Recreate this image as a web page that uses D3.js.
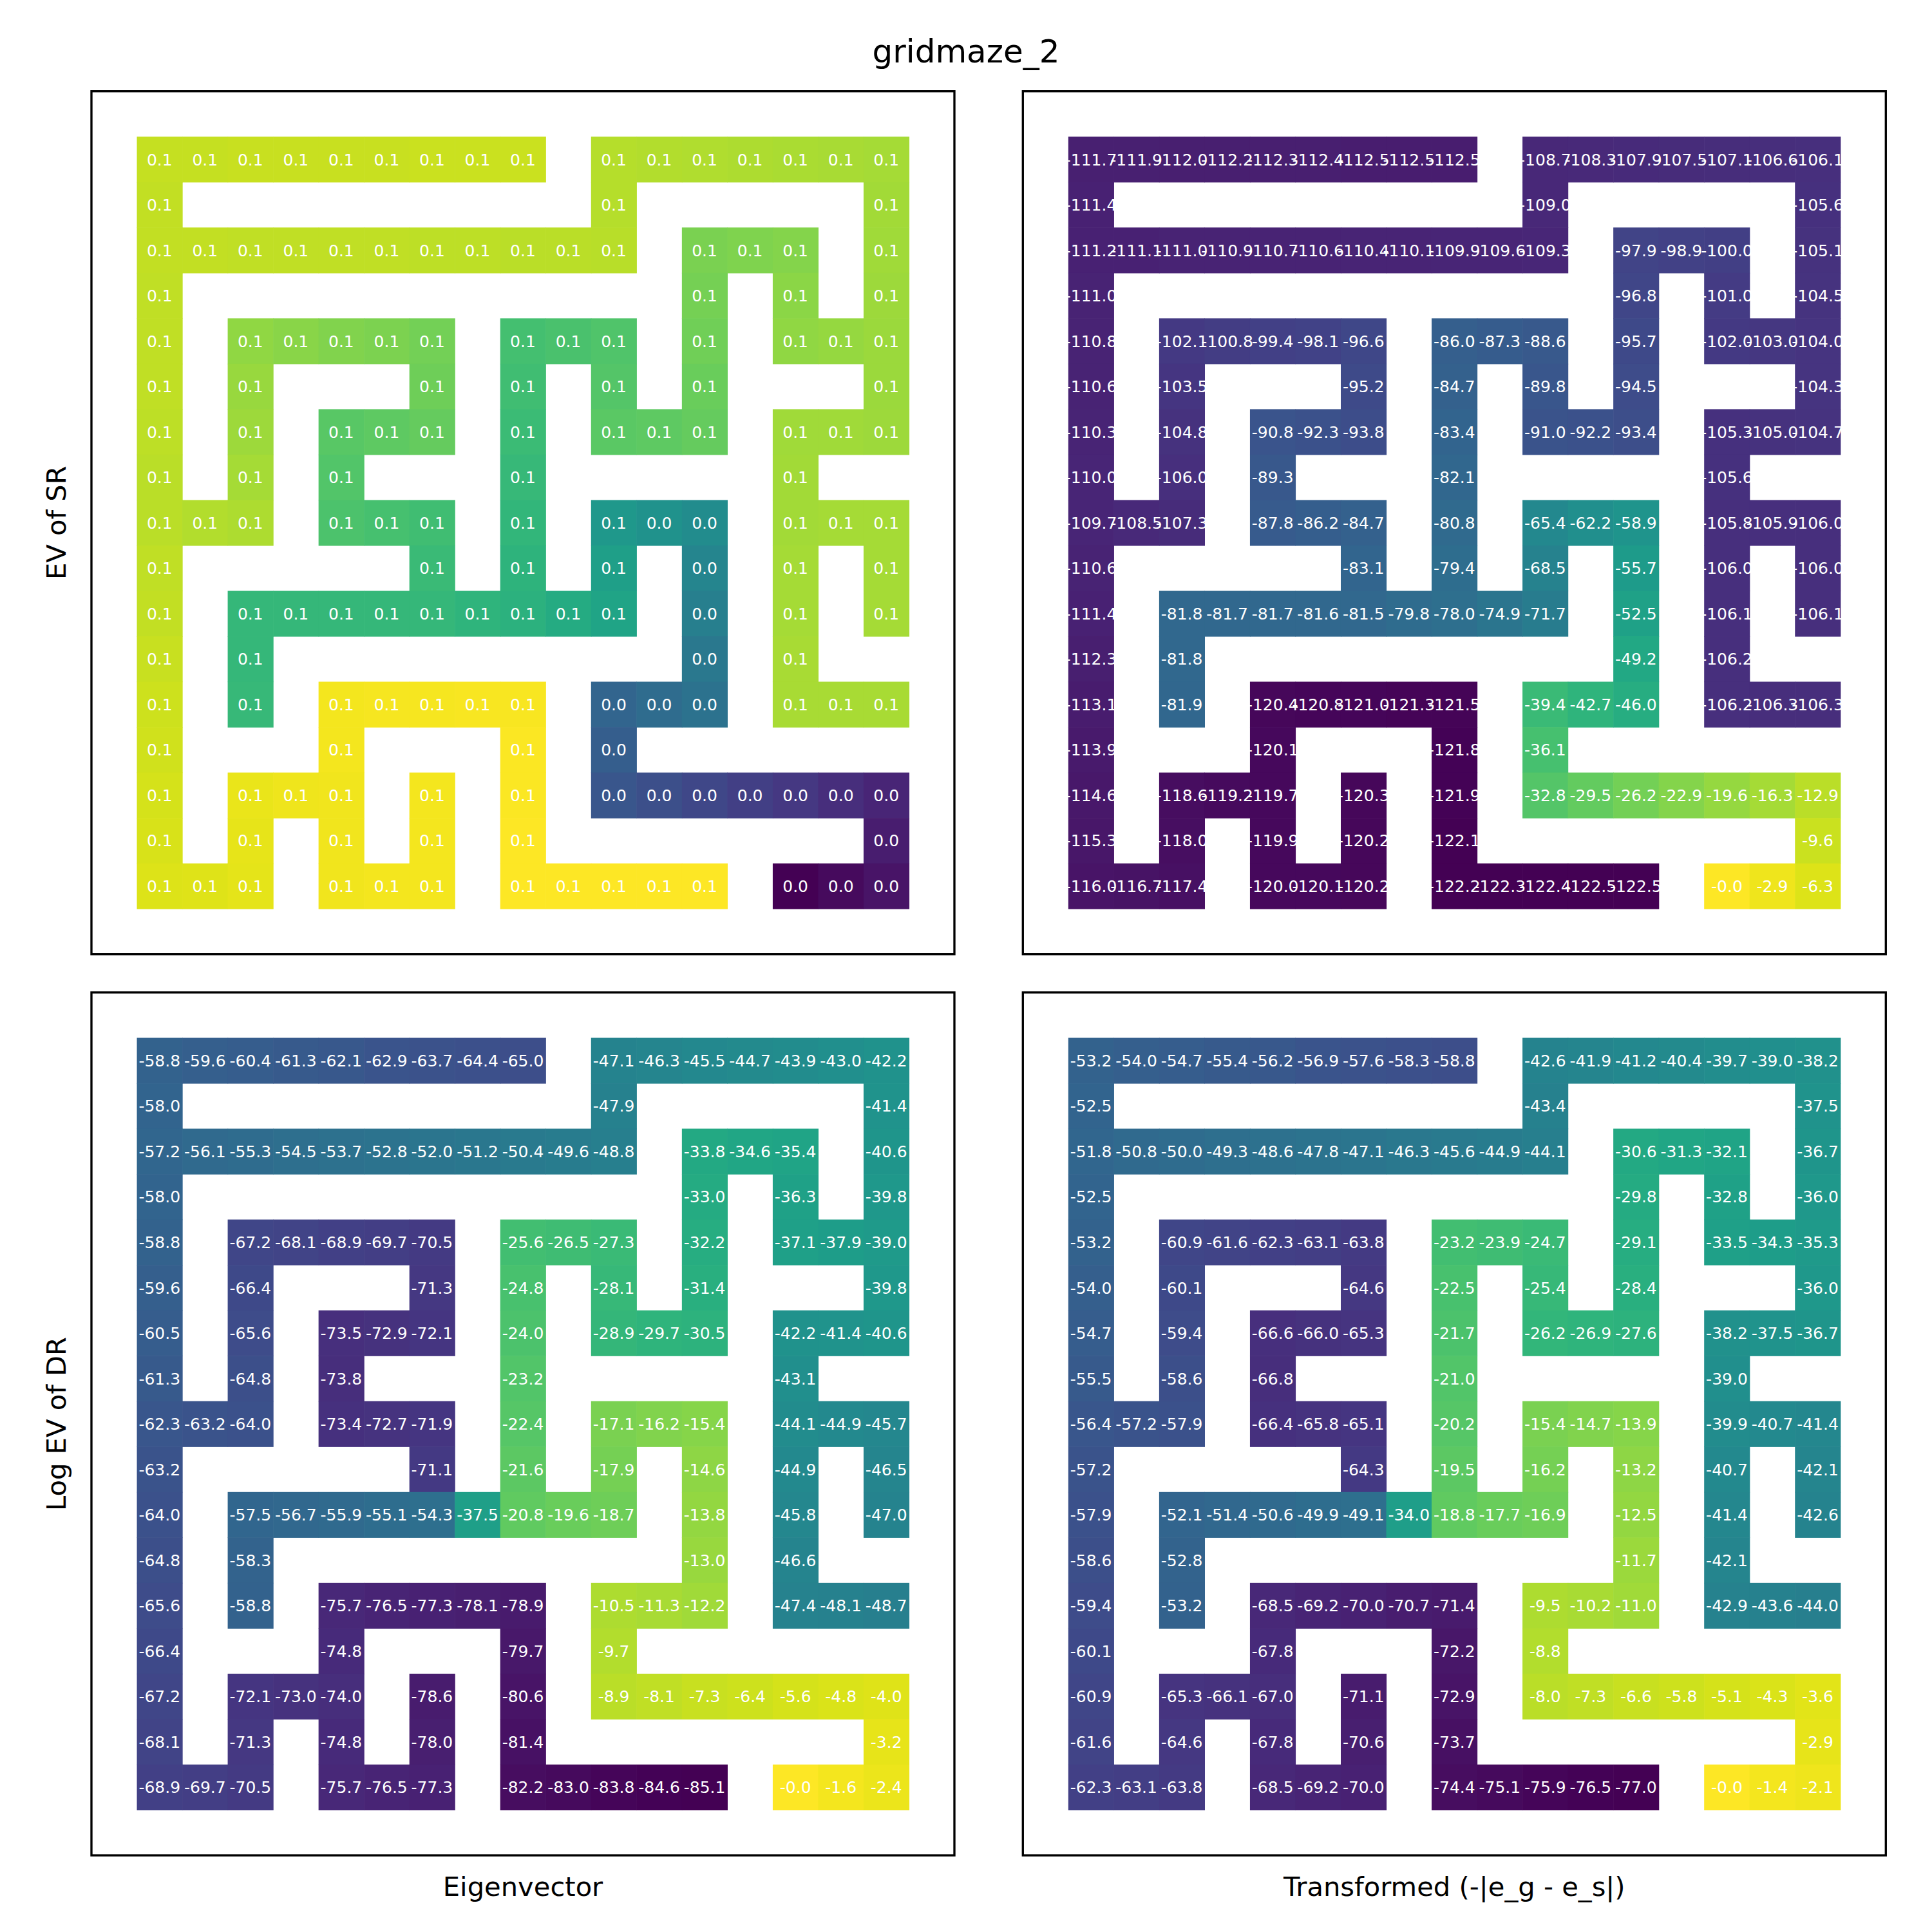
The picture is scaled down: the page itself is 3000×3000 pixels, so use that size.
<!DOCTYPE html>
<html>
<head>
<meta charset="utf-8">
<script src="https://cdn.jsdelivr.net/npm/d3@7"></script>
<style>
  html, body { margin: 0; padding: 0; background: #fff; }
  svg { display: block; }
  text { font-family: "DejaVu Sans", sans-serif; }
</style>
</head>
<body>
<script>
const n = null;
const title = "gridmaze_2";
const rowLabels = ["EV of SR", "Log EV of DR"];
const colLabels = ["Eigenvector", "Transformed (-|e_g - e_s|)"];

// Panel 1: eigenvector of SR (labels show 0.1 / 0.0; colour carries the finer value)
const srEigen = [
  [0.0894,0.0895,0.0896,0.0898,0.0898,0.0899,0.0900,0.0900,0.0900,n,0.0870,0.0866,0.0863,0.0860,0.0857,0.0853,0.0849],
  [0.0891,n,n,n,n,n,n,n,n,n,0.0872,n,n,n,n,n,0.0845],
  [0.0890,0.0889,0.0888,0.0887,0.0886,0.0885,0.0883,0.0881,0.0879,0.0877,0.0874,n,0.0783,0.0791,0.0800,n,0.0841],
  [0.0888,n,n,n,n,n,n,n,n,n,n,n,0.0774,n,0.0808,n,0.0836],
  [0.0886,n,0.0817,0.0806,0.0795,0.0785,0.0773,n,0.0688,0.0698,0.0709,n,0.0766,n,0.0816,0.0824,0.0832],
  [0.0885,n,0.0828,n,n,n,0.0762,n,0.0678,n,0.0718,n,0.0756,n,n,n,0.0834],
  [0.0882,n,0.0838,n,0.0726,0.0738,0.0750,n,0.0667,n,0.0728,0.0738,0.0747,n,0.0842,0.0840,0.0838],
  [0.0880,n,0.0848,n,0.0714,n,n,n,0.0657,n,n,n,n,n,0.0845,n,n],
  [0.0878,0.0868,0.0858,n,0.0702,0.0690,0.0678,n,0.0646,n,0.0523,0.0498,0.0471,n,0.0846,0.0847,0.0848],
  [0.0885,n,n,n,n,n,0.0665,n,0.0635,n,0.0548,n,0.0446,n,0.0848,n,0.0848],
  [0.0891,n,0.0654,0.0654,0.0654,0.0653,0.0652,0.0638,0.0624,0.0599,0.0574,n,0.0420,n,0.0849,n,0.0849],
  [0.0898,n,0.0654,n,n,n,n,n,n,n,n,n,0.0394,n,0.0850,n,n],
  [0.0905,n,0.0655,n,0.0963,0.0966,0.0968,0.0970,0.0972,n,0.0315,0.0342,0.0368,n,0.0850,0.0850,0.0850],
  [0.0911,n,n,n,0.0961,n,n,n,0.0974,n,0.0289,n,n,n,n,n,n],
  [0.0917,n,0.0949,0.0954,0.0958,n,0.0962,n,0.0975,n,0.0262,0.0236,0.0210,0.0183,0.0157,0.0130,0.0103],
  [0.0922,n,0.0944,n,0.0959,n,0.0962,n,0.0977,n,n,n,n,n,n,n,0.0077],
  [0.0928,0.0934,0.0939,n,0.0960,0.0961,0.0962,n,0.0978,0.0978,0.0979,0.0980,0.0980,n,0.0000,0.0023,0.0050]
];

// Panel 2: transformed SR eigenvector
const srTransformed = [
  [-111.7,-111.9,-112.0,-112.2,-112.3,-112.4,-112.5,-112.5,-112.5,n,-108.7,-108.3,-107.9,-107.5,-107.1,-106.6,-106.1],
  [-111.4,n,n,n,n,n,n,n,n,n,-109.0,n,n,n,n,n,-105.6],
  [-111.2,-111.1,-111.0,-110.9,-110.7,-110.6,-110.4,-110.1,-109.9,-109.6,-109.3,n,-97.9,-98.9,-100.0,n,-105.1],
  [-111.0,n,n,n,n,n,n,n,n,n,n,n,-96.8,n,-101.0,n,-104.5],
  [-110.8,n,-102.1,-100.8,-99.4,-98.1,-96.6,n,-86.0,-87.3,-88.6,n,-95.7,n,-102.0,-103.0,-104.0],
  [-110.6,n,-103.5,n,n,n,-95.2,n,-84.7,n,-89.8,n,-94.5,n,n,n,-104.3],
  [-110.3,n,-104.8,n,-90.8,-92.3,-93.8,n,-83.4,n,-91.0,-92.2,-93.4,n,-105.3,-105.0,-104.7],
  [-110.0,n,-106.0,n,-89.3,n,n,n,-82.1,n,n,n,n,n,-105.6,n,n],
  [-109.7,-108.5,-107.3,n,-87.8,-86.2,-84.7,n,-80.8,n,-65.4,-62.2,-58.9,n,-105.8,-105.9,-106.0],
  [-110.6,n,n,n,n,n,-83.1,n,-79.4,n,-68.5,n,-55.7,n,-106.0,n,-106.0],
  [-111.4,n,-81.8,-81.7,-81.7,-81.6,-81.5,-79.8,-78.0,-74.9,-71.7,n,-52.5,n,-106.1,n,-106.1],
  [-112.3,n,-81.8,n,n,n,n,n,n,n,n,n,-49.2,n,-106.2,n,n],
  [-113.1,n,-81.9,n,-120.4,-120.8,-121.0,-121.3,-121.5,n,-39.4,-42.7,-46.0,n,-106.2,-106.3,-106.3],
  [-113.9,n,n,n,-120.1,n,n,n,-121.8,n,-36.1,n,n,n,n,n,n],
  [-114.6,n,-118.6,-119.2,-119.7,n,-120.3,n,-121.9,n,-32.8,-29.5,-26.2,-22.9,-19.6,-16.3,-12.9],
  [-115.3,n,-118.0,n,-119.9,n,-120.2,n,-122.1,n,n,n,n,n,n,n,-9.6],
  [-116.0,-116.7,-117.4,n,-120.0,-120.1,-120.2,n,-122.2,-122.3,-122.4,-122.5,-122.5,n,-0.0,-2.9,-6.3]
];

// Panel 3: log eigenvector of DR
const drLogEigen = [
  [-58.8,-59.6,-60.4,-61.3,-62.1,-62.9,-63.7,-64.4,-65.0,n,-47.1,-46.3,-45.5,-44.7,-43.9,-43.0,-42.2],
  [-58.0,n,n,n,n,n,n,n,n,n,-47.9,n,n,n,n,n,-41.4],
  [-57.2,-56.1,-55.3,-54.5,-53.7,-52.8,-52.0,-51.2,-50.4,-49.6,-48.8,n,-33.8,-34.6,-35.4,n,-40.6],
  [-58.0,n,n,n,n,n,n,n,n,n,n,n,-33.0,n,-36.3,n,-39.8],
  [-58.8,n,-67.2,-68.1,-68.9,-69.7,-70.5,n,-25.6,-26.5,-27.3,n,-32.2,n,-37.1,-37.9,-39.0],
  [-59.6,n,-66.4,n,n,n,-71.3,n,-24.8,n,-28.1,n,-31.4,n,n,n,-39.8],
  [-60.5,n,-65.6,n,-73.5,-72.9,-72.1,n,-24.0,n,-28.9,-29.7,-30.5,n,-42.2,-41.4,-40.6],
  [-61.3,n,-64.8,n,-73.8,n,n,n,-23.2,n,n,n,n,n,-43.1,n,n],
  [-62.3,-63.2,-64.0,n,-73.4,-72.7,-71.9,n,-22.4,n,-17.1,-16.2,-15.4,n,-44.1,-44.9,-45.7],
  [-63.2,n,n,n,n,n,-71.1,n,-21.6,n,-17.9,n,-14.6,n,-44.9,n,-46.5],
  [-64.0,n,-57.5,-56.7,-55.9,-55.1,-54.3,-37.5,-20.8,-19.6,-18.7,n,-13.8,n,-45.8,n,-47.0],
  [-64.8,n,-58.3,n,n,n,n,n,n,n,n,n,-13.0,n,-46.6,n,n],
  [-65.6,n,-58.8,n,-75.7,-76.5,-77.3,-78.1,-78.9,n,-10.5,-11.3,-12.2,n,-47.4,-48.1,-48.7],
  [-66.4,n,n,n,-74.8,n,n,n,-79.7,n,-9.7,n,n,n,n,n,n],
  [-67.2,n,-72.1,-73.0,-74.0,n,-78.6,n,-80.6,n,-8.9,-8.1,-7.3,-6.4,-5.6,-4.8,-4.0],
  [-68.1,n,-71.3,n,-74.8,n,-78.0,n,-81.4,n,n,n,n,n,n,n,-3.2],
  [-68.9,-69.7,-70.5,n,-75.7,-76.5,-77.3,n,-82.2,-83.0,-83.8,-84.6,-85.1,n,-0.0,-1.6,-2.4]
];

// Panel 4: transformed DR
const drTransformed = [
  [-53.2,-54.0,-54.7,-55.4,-56.2,-56.9,-57.6,-58.3,-58.8,n,-42.6,-41.9,-41.2,-40.4,-39.7,-39.0,-38.2],
  [-52.5,n,n,n,n,n,n,n,n,n,-43.4,n,n,n,n,n,-37.5],
  [-51.8,-50.8,-50.0,-49.3,-48.6,-47.8,-47.1,-46.3,-45.6,-44.9,-44.1,n,-30.6,-31.3,-32.1,n,-36.7],
  [-52.5,n,n,n,n,n,n,n,n,n,n,n,-29.8,n,-32.8,n,-36.0],
  [-53.2,n,-60.9,-61.6,-62.3,-63.1,-63.8,n,-23.2,-23.9,-24.7,n,-29.1,n,-33.5,-34.3,-35.3],
  [-54.0,n,-60.1,n,n,n,-64.6,n,-22.5,n,-25.4,n,-28.4,n,n,n,-36.0],
  [-54.7,n,-59.4,n,-66.6,-66.0,-65.3,n,-21.7,n,-26.2,-26.9,-27.6,n,-38.2,-37.5,-36.7],
  [-55.5,n,-58.6,n,-66.8,n,n,n,-21.0,n,n,n,n,n,-39.0,n,n],
  [-56.4,-57.2,-57.9,n,-66.4,-65.8,-65.1,n,-20.2,n,-15.4,-14.7,-13.9,n,-39.9,-40.7,-41.4],
  [-57.2,n,n,n,n,n,-64.3,n,-19.5,n,-16.2,n,-13.2,n,-40.7,n,-42.1],
  [-57.9,n,-52.1,-51.4,-50.6,-49.9,-49.1,-34.0,-18.8,-17.7,-16.9,n,-12.5,n,-41.4,n,-42.6],
  [-58.6,n,-52.8,n,n,n,n,n,n,n,n,n,-11.7,n,-42.1,n,n],
  [-59.4,n,-53.2,n,-68.5,-69.2,-70.0,-70.7,-71.4,n,-9.5,-10.2,-11.0,n,-42.9,-43.6,-44.0],
  [-60.1,n,n,n,-67.8,n,n,n,-72.2,n,-8.8,n,n,n,n,n,n],
  [-60.9,n,-65.3,-66.1,-67.0,n,-71.1,n,-72.9,n,-8.0,-7.3,-6.6,-5.8,-5.1,-4.3,-3.6],
  [-61.6,n,-64.6,n,-67.8,n,-70.6,n,-73.7,n,n,n,n,n,n,n,-2.9],
  [-62.3,-63.1,-63.8,n,-68.5,-69.2,-70.0,n,-74.4,-75.1,-75.9,-76.5,-77.0,n,-0.0,-1.4,-2.1]
];

const grids = [srEigen, srTransformed, drLogEigen, drTransformed];

// ---------- layout ----------
const W = 3000, H = 3000;
const axSize = 1340;
const axLeft = [142, 1588.3];
const axTop = [141.7, 1541];
const cellFont = 25;

function fmt(v) {
  const s = Math.abs(v).toFixed(1);
  return (v < 0 || Object.is(v, -0)) ? "-" + s : s;
}

const svg = d3.select("body").append("svg")
  .attr("width", W).attr("height", H)
  .attr("viewBox", `0 0 ${W} ${H}`);

svg.append("rect").attr("width", W).attr("height", H).attr("fill", "#fff");

const band = d3.scaleBand().domain(d3.range(19)).range([0, axSize]).padding(0);

grids.forEach((grid, gi) => {
  const r = Math.floor(gi / 2), c = gi % 2;
  const g = svg.append("g").attr("transform", `translate(${axLeft[c]},${axTop[r]})`);
  const cells = [];
  grid.forEach((row, i) => row.forEach((v, j) => { if (v !== null) cells.push({i, j, v}); }));
  const color = d3.scaleSequential(d3.interpolateViridis).domain(d3.extent(cells, d => d.v));
  const bw = band.bandwidth();

  g.selectAll("rect.cell").data(cells).join("rect")
    .attr("class", "cell")
    .attr("x", d => band(d.j + 1))
    .attr("y", d => band(d.i + 1))
    .attr("width", bw + 0.6)
    .attr("height", bw + 0.6)
    .attr("fill", d => color(d.v));

  g.selectAll("text.val").data(cells).join("text")
    .attr("class", "val")
    .attr("x", d => band(d.j + 1) + bw / 2)
    .attr("y", d => band(d.i + 1) + bw / 2 + cellFont * 0.364)
    .attr("text-anchor", "middle")
    .attr("font-size", cellFont)
    .attr("fill", "#fff")
    .text(d => fmt(d.v));

  g.append("rect")
    .attr("x", 0).attr("y", 0)
    .attr("width", axSize).attr("height", axSize)
    .attr("fill", "none").attr("stroke", "#000").attr("stroke-width", 3.33);
});

// title
svg.append("text")
  .attr("x", 1500).attr("y", 97)
  .attr("text-anchor", "middle")
  .attr("font-size", 50)
  .text(title);

// row labels
rowLabels.forEach((t, r) => {
  svg.append("text")
    .attr("transform", `translate(101.5,${axTop[r] + axSize / 2}) rotate(-90)`)
    .attr("text-anchor", "middle")
    .attr("font-size", 41.67)
    .text(t);
});

// column labels
colLabels.forEach((t, c) => {
  svg.append("text")
    .attr("x", axLeft[c] + axSize / 2).attr("y", 2944)
    .attr("text-anchor", "middle")
    .attr("font-size", 41.67)
    .text(t);
});
</script>
</body>
</html>
